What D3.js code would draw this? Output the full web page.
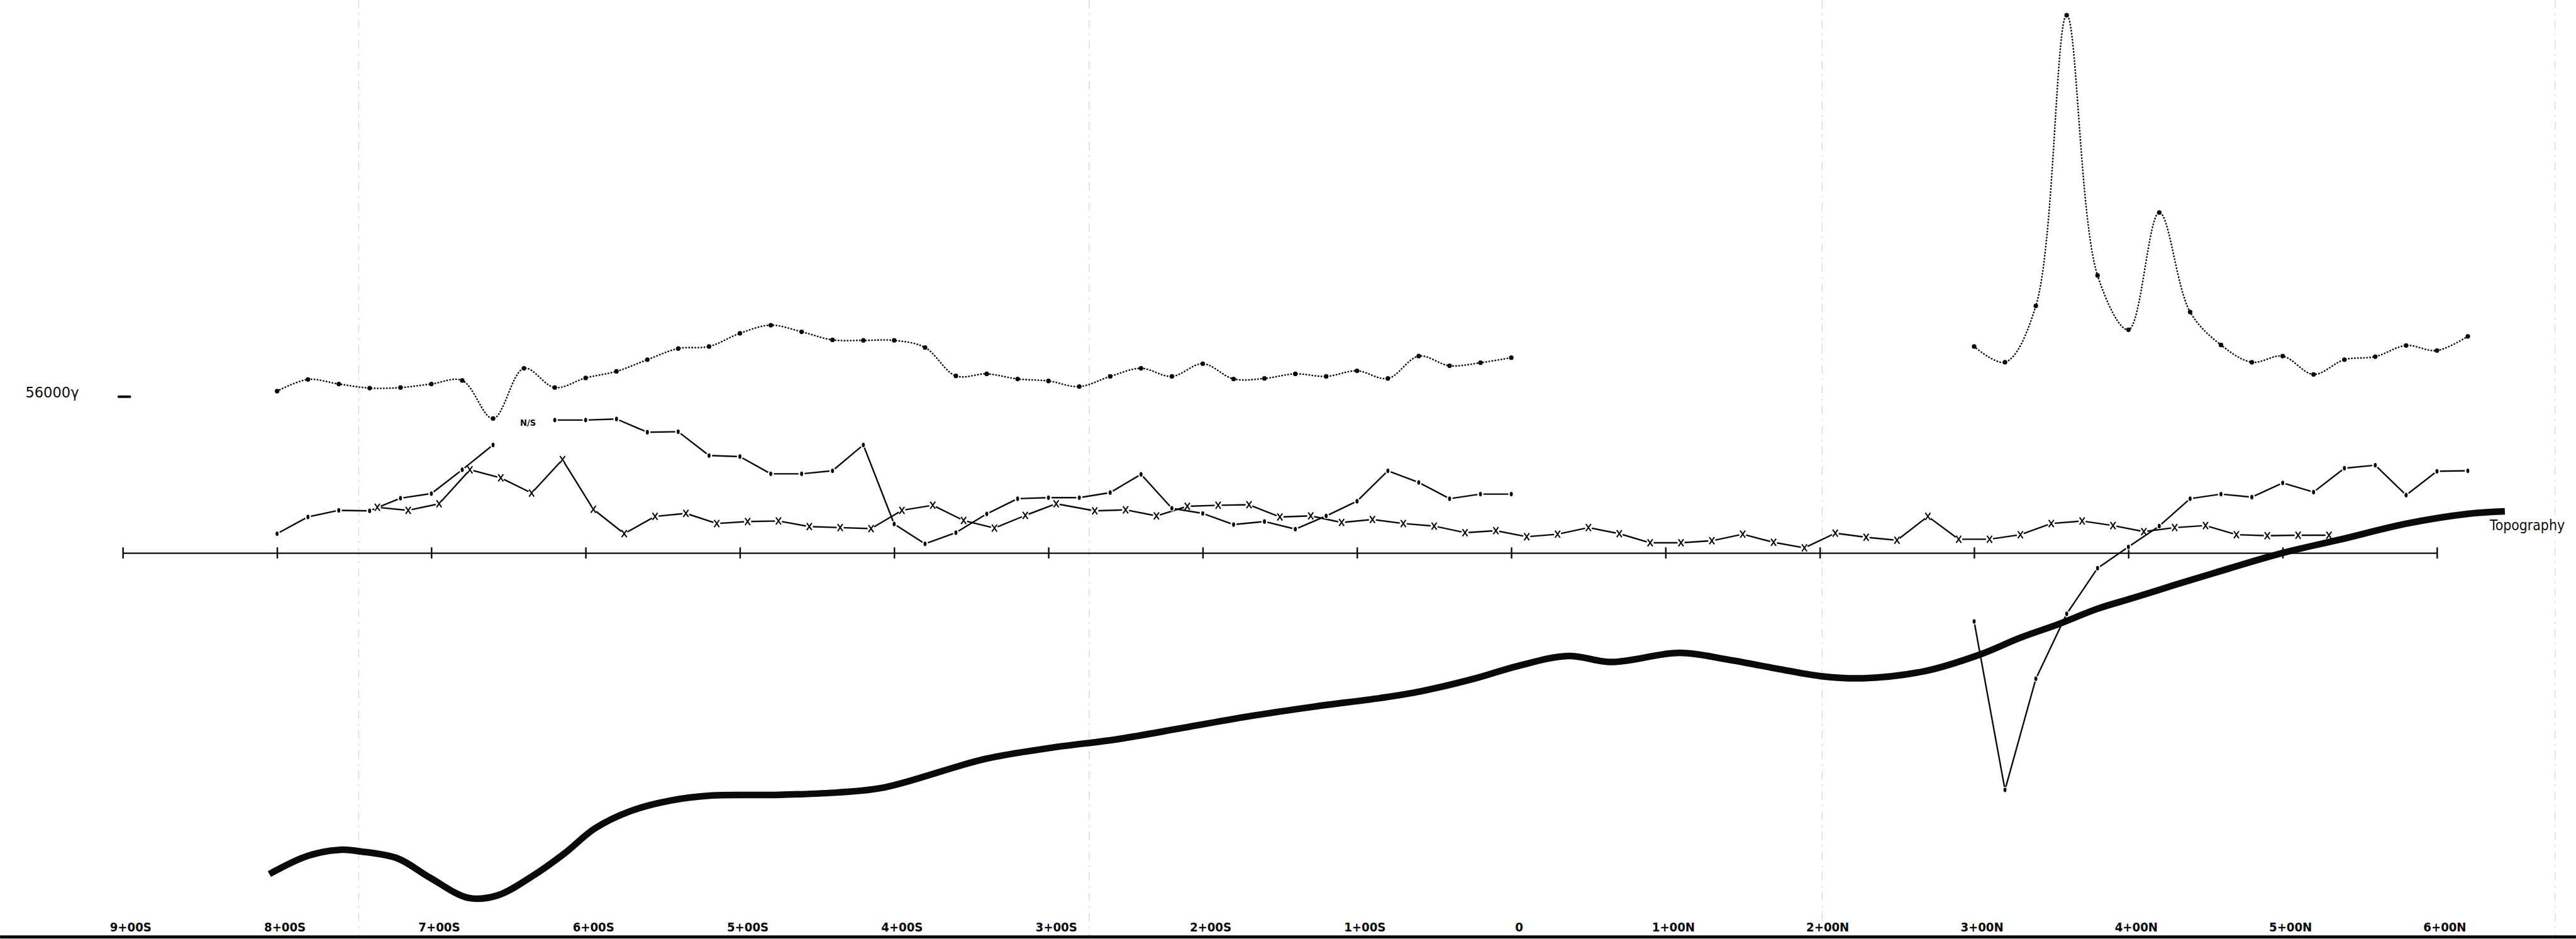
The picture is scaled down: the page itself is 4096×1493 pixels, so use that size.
<!DOCTYPE html>
<html>
<head>
<meta charset="utf-8">
<script src="https://cdn.jsdelivr.net/npm/d3@7"></script>
<style>
  html, body { margin: 0; padding: 0; background: #fff; overflow: hidden; }
  svg { display: block; }
</style>
</head>
<body>
<script>
// ---- Profile data (stations in ft along the line; south negative, north positive) ----

// Axis stations and their labels
const tickStations = [-900, -800, -700, -600, -500, -400, -300, -200, -100, 0, 100, 200, 300, 400, 500, 600];
const tickLabels = ["9+00S", "8+00S", "7+00S", "6+00S", "5+00S", "4+00S", "3+00S", "2+00S", "1+00S", "0",
                    "1+00N", "2+00N", "3+00N", "4+00N", "5+00N", "6+00N"];

// Total magnetic field (gammas), south segment
const magStationsSouth = [-800, -780, -760, -740, -720, -700, -680, -660, -640, -620, -600, -580, -560, -540, -520,
  -500, -480, -460, -440, -420, -400, -380, -360, -340, -320, -300, -280, -260, -240, -220, -200, -180, -160, -140,
  -120, -100, -80, -60, -40, -20, 0];
const magGammaSouth = [56022, 56068, 56050, 56034, 56036, 56050, 56064, 55914, 56112, 56036, 56074, 56100, 56146,
  56190, 56198, 56250, 56282, 56256, 56224, 56222, 56222, 56194, 56082, 56090, 56070, 56062, 56040, 56080, 56112,
  56080, 56130, 56070, 56072, 56090, 56080, 56102, 56072, 56160, 56122, 56134, 56154];

// Total magnetic field (gammas), north segment
const magStationsNorth = [300, 320, 340, 360, 380, 400, 420, 440, 460, 480, 500, 520, 540, 560, 580, 600, 620];
const magGammaNorth = [56198, 56136, 56358, 57504, 56478, 56264, 56726, 56334, 56204, 56136, 56160, 56088, 56146,
  56158, 56202, 56182, 56238];

// EM dip-angle readings (%), dotted markers; null = no signal (N/S)
const emStationsSouth = magStationsSouth;
const emDotSouth = [3.8, 7.1, 8.4, 8.3, 10.8, 11.7, 16.4, 21.3, null, 26.2, 26.2, 26.4, 23.8, 23.9, 19.2, 19.0, 15.6,
  15.6, 16.2, 21.3, 5.7, 1.8, 4.0, 7.7, 10.7, 10.9, 10.9, 11.9, 15.5, 8.8, 7.8, 5.6, 6.2, 4.7, 7.3, 10.2, 16.2, 13.9,
  10.7, 11.6, 11.6];
const emStationsNorth = magStationsNorth;
const emDotNorth = [-13.5, -46.7, -24.8, -12.0, -3.0, 1.2, 5.3, 10.7, 11.6, 11.0, 13.8, 12.0, 16.7, 17.3, 11.4, 16.1, 16.2];

// Filtered EM readings (%), plotted between stations, cross markers
const crossStations = [-735, -715, -695, -675, -655, -635, -615, -595, -575, -555, -535, -515, -495, -475, -455, -435,
  -415, -395, -375, -355, -335, -315, -295, -270, -250, -230, -210, -190, -170, -150, -130, -110, -90, -70, -50, -30,
  -10, 10, 30, 50, 70, 90, 110, 130, 150, 170, 190, 210, 230, 250, 270, 290, 310, 330, 350, 370, 390, 410, 430, 450,
  470, 490, 510, 530];
const crossValues = [9.0, 8.4, 9.7, 16.4, 14.8, 11.8, 18.4, 8.6, 3.8, 7.2, 7.8, 5.8, 6.2, 6.3, 5.2, 5.0, 4.8, 8.4, 9.4,
  6.4, 4.9, 7.4, 9.7, 8.3, 8.5, 7.3, 9.2, 9.4, 9.5, 7.1, 7.3, 6.0, 6.6, 5.8, 5.3, 4.0, 4.4, 3.2, 3.7, 5.0, 3.8, 2.0,
  2.0, 2.4, 3.7, 2.1, 1.0, 3.9, 3.1, 2.5, 7.2, 2.7, 2.7, 3.6, 5.8, 6.3, 5.4, 4.2, 5.0, 5.4, 3.6, 3.4, 3.5, 3.5];

// Topography (relative elevation)
const topoStations = [-805, -780, -758, -747, -722, -701, -676, -657, -635, -614, -594, -572, -545, -518, -477, -436,
  -406, -341, -298, -255, -213, -170, -128, -85, -59, -23, 4, 37, 65, 109, 140, 172, 201, 228, 268, 304, 330, 355,
  380, 405, 430, 455, 500, 538, 579, 620, 644];
const topoElev = [7.7, 11.3, 12.5, 12.2, 10.8, 7.0, 3.0, 3.5, 7.2, 11.7, 16.7, 20.0, 22.2, 23.2, 23.3, 23.8, 24.8,
  30.4, 32.6, 34.3, 36.5, 38.8, 40.7, 42.4, 43.7, 46.3, 48.7, 50.7, 49.5, 51.3, 50.0, 48.2, 46.7, 46.3, 47.7, 51.0,
  54.3, 57.0, 60.0, 62.3, 64.7, 67.0, 71.0, 73.7, 76.7, 78.7, 79.2];

const magBaseLabel = "56000γ";
const magBase = 56000;

// ---- Drawing ----
const W = 5078, H = 1851;
const svg = d3.select("body").append("svg")
  .attr("width", 4096).attr("height", 1493)
  .attr("viewBox", `0 0 ${W} ${H}`);

svg.append("rect").attr("width", W).attr("height", H).attr("fill", "#fff");

const x = d3.scaleLinear().domain([-900, 600]).range([242, 4804]);
const yEM = d3.scaleLinear().domain([-50, 30]).range([1590, 790]);
const yMag = d3.scaleLinear().domain([56000, 57500]).range([782, 32]);
const yTopo = d3.scaleLinear().domain([0, 80]).range([1800, 1000]);

const ink = "#0a0a0a";

// faint fold creases of the drafting sheet
const foldX = [707, 2147, 3592, 5037];
svg.append("g").selectAll("line").data(foldX).join("line")
  .attr("x1", d => d).attr("x2", d => d)
  .attr("y1", 0).attr("y2", H)
  .attr("stroke", "#d6d6d6").attr("stroke-width", 1.6)
  .attr("stroke-dasharray", "16 10 4 10");

// bottom edge rule
svg.append("line").attr("x1", 0).attr("x2", W).attr("y1", 1847).attr("y2", 1847)
  .attr("stroke", ink).attr("stroke-width", 6);

// station axis (zero line for EM)
const axis = d3.axisBottom(x).tickValues(tickStations).tickSize(11).tickSizeOuter(0).tickFormat("");
const gAxis = svg.append("g").attr("transform", `translate(0,${yEM(0)})`).call(axis);
gAxis.select(".domain").attr("stroke", ink).attr("stroke-width", 3);
gAxis.selectAll(".tick line").attr("y1", -11).attr("stroke", ink).attr("stroke-width", 3);

// station labels along the bottom
const labelAxis = d3.axisBottom(x).tickValues(tickStations).tickSize(0).tickPadding(0)
  .tickFormat((d, i) => tickLabels[i]);
const gLab = svg.append("g").attr("transform", `translate(15,1818)`).call(labelAxis);
gLab.select(".domain").remove();
gLab.selectAll("text")
  .attr("font-family", "'DejaVu Sans Condensed', 'DejaVu Sans', sans-serif")
  .attr("font-size", 25).attr("font-weight", "bold").attr("fill", ink);

// ---- EM profiles ----
const pts = (st, vals) => st.map((s, i) => ({ s, v: vals[i] }));
const emLine = d3.line().defined(d => d.v != null).x(d => x(d.s)).y(d => yEM(d.v));

const dotsS = pts(emStationsSouth, emDotSouth);
const dotsN = pts(emStationsNorth, emDotNorth);
const crosses = pts(crossStations, crossValues);

const gEM = svg.append("g");
[dotsS, dotsN, crosses].forEach(series => {
  gEM.append("path").datum(series).attr("d", emLine)
    .attr("fill", "none").attr("stroke", ink).attr("stroke-width", 3)
    .attr("stroke-linejoin", "round");
});

// pen-lift gaps around markers
const allDots = dotsS.concat(dotsN).filter(d => d.v != null);
gEM.append("g").selectAll("circle").data(allDots).join("circle")
  .attr("cx", d => x(d.s)).attr("cy", d => yEM(d.v)).attr("r", 6).attr("fill", "#fff");
gEM.append("g").selectAll("ellipse").data(allDots).join("ellipse")
  .attr("cx", d => x(d.s)).attr("cy", d => yEM(d.v)).attr("rx", 3).attr("ry", 4.5).attr("fill", ink);

gEM.append("g").selectAll("circle").data(crosses).join("circle")
  .attr("cx", d => x(d.s)).attr("cy", d => yEM(d.v)).attr("r", 7).attr("fill", "#fff");
gEM.append("g").selectAll("path").data(crosses).join("path")
  .attr("transform", d => `translate(${x(d.s)},${yEM(d.v)})`)
  .attr("d", "M-5,-7L5,7M5,-7L-5,7")
  .attr("stroke", ink).attr("stroke-width", 2.6).attr("fill", "none");

// N/S note where no signal was received
const nsIndex = emDotSouth.indexOf(null);
svg.append("text")
  .attr("x", x(emStationsSouth[nsIndex]) + 8)
  .attr("y", yEM(emDotSouth[nsIndex + 1]) + 11)
  .attr("text-anchor", "middle")
  .attr("font-family", "'DejaVu Sans Condensed', sans-serif")
  .attr("font-size", 18).attr("font-weight", "bold").attr("fill", ink)
  .text("N/S");

// ---- Magnetics ----
const magLine = d3.line().curve(d3.curveCatmullRom.alpha(0.5)).x(d => x(d.s)).y(d => yMag(d.v));
const magS = pts(magStationsSouth, magGammaSouth);
const magN = pts(magStationsNorth, magGammaNorth);
const gMag = svg.append("g");
[magS, magN].forEach(series => {
  gMag.append("path").datum(series).attr("d", magLine)
    .attr("fill", "none").attr("stroke", ink).attr("stroke-width", 3.2)
    .attr("stroke-linecap", "round").attr("stroke-dasharray", "0.5 5.5");
});
gMag.append("g").selectAll("circle").data(magS.concat(magN)).join("circle")
  .attr("cx", d => x(d.s)).attr("cy", d => yMag(d.v)).attr("r", 4.5).attr("fill", ink);

// base level of the magnetic profile
svg.append("line")
  .attr("x1", 234).attr("x2", 256)
  .attr("y1", yMag(magBase)).attr("y2", yMag(magBase))
  .attr("stroke", ink).attr("stroke-width", 5).attr("stroke-linecap", "round");
svg.append("text")
  .attr("x", 50).attr("y", yMag(magBase) + 2)
  .attr("font-family", "'DejaVu Sans', sans-serif")
  .attr("font-size", 28).attr("fill", ink)
  .text(magBaseLabel);

// ---- Topography ----
const topo = pts(topoStations, topoElev);
const topoLine = d3.line().curve(d3.curveCatmullRom.alpha(0.5)).x(d => x(d.s)).y(d => yTopo(d.v));
svg.append("path").datum(topo).attr("d", topoLine)
  .attr("fill", "none").attr("stroke", ink).attr("stroke-width", 13)
  .attr("stroke-linejoin", "round").attr("stroke-linecap", "butt");

const topoEnd = topo[topo.length - 1];
svg.append("text")
  .attr("x", x(topoEnd.s) - 30).attr("y", yTopo(topoEnd.v) + 37)
  .attr("font-family", "'DejaVu Sans', sans-serif")
  .attr("font-size", 28).attr("fill", ink)
  .attr("textLength", 148).attr("lengthAdjust", "spacingAndGlyphs")
  .text("Topography");
</script>
</body>
</html>
